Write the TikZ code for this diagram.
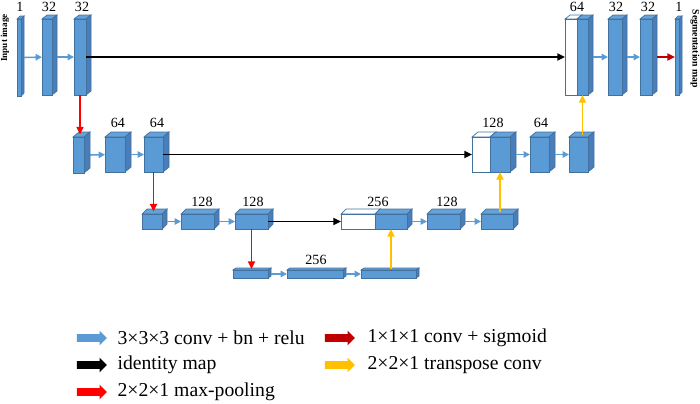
\documentclass[tikz,border=0pt]{standalone}
\usepackage{fontspec}
\setmainfont{Liberation Serif}
\usepackage{tikz}
\usetikzlibrary{arrows.meta,positioning,shapes.arrows}
\definecolor{blkfront}{HTML}{5B9BD5}
\definecolor{blkside}{HTML}{4A7EBB}
\definecolor{blktop}{HTML}{65A2D9}
\definecolor{blkedge}{HTML}{41719C}
\definecolor{poolred}{HTML}{FF0000}
\definecolor{sigred}{HTML}{C00000}
\definecolor{upyel}{HTML}{FFC000}
\def\pu{0.025cm}
% cuboid: [style prefix](name)(x1,y1)(x2,y2)(depth x,depth y), in pixels
\def\cuboid[#1](#2)(#3,#4)(#5,#6)(#7,#8){
	\draw[#1top] (#3,#4) -- ++(#7,-#8) -- ++({#5-#3},0) -- (#5,#4) -- cycle;
	\draw[#1side] (#5,#4) -- ++(#7,-#8) -- ++(0,{#6-#4}) -- (#5,#6) -- cycle;
	\node[#1front, minimum width={(#5-#3)*\pu}, minimum height={(#6-#4)*\pu}] (#2) at ({(#3+#5)/2},{(#4+#6)/2}) {};
	\coordinate (#2-t) at ({(#3+#5)/2+#7/2},{#4-#8/2});
	\coordinate (#2-r) at ({#5+#7},{(#4+#6)/2});
}
\tikzset{
	btop/.style={fill=blktop, draw=blkedge, line width=0.5pt},
	bside/.style={fill=blkside, draw=blkedge, line width=0.5pt},
	bfront/.style={fill=blkfront, draw=blkedge, line width=0.5pt, inner sep=0pt, outer sep=0pt},
	wtop/.style={fill=white, draw=blkedge, line width=0.5pt},
	wside/.style={fill=white, draw=blkedge, line width=0.5pt},
	wfront/.style={fill=white, draw=blkedge, line width=0.5pt, inner sep=0pt, outer sep=0pt},
	lbl/.style={font=\fontsize{10}{11}\selectfont, inner sep=0pt},
	conv/.style={draw=blkfront, line width=1.1pt, -{Triangle[length=4.5pt,width=4.5pt]}},
	skip/.style={draw=black, line width=1.4pt, -{Triangle[length=5.5pt,width=5pt]}},
	pool/.style={draw=poolred, line width=1.4pt, -{Triangle[length=5.5pt,width=5pt]}},
	sig/.style={draw=sigred, line width=1.4pt, -{Triangle[length=5.5pt,width=5pt]}},
	up/.style={draw=upyel, line width=1.4pt, -{Triangle[length=5.5pt,width=5pt]}},
	legarr/.style={single arrow, single arrow head extend=3.5*\pu, inner sep=3.5*\pu, minimum height=30*\pu, draw=none},
	legtxt/.style={font=\fontsize{14}{16}\selectfont, inner sep=0pt, anchor=west}
}

\begin{document}
\begin{tikzpicture}[x=\pu, y=-\pu]
		%%%%% START %%%%%
		\useasboundingbox (0,0) rectangle (700,403);
		
		% level 1
		\cuboid[b](in1)(17,19)(21,96)(3,3)
		\cuboid[b](e1a)(42,19)(52,95)(5,4)
		\cuboid[b](e1b)(74,19)(86,95)(5,4)
		\cuboid[w](d1w)(565,19)(577,95)(5,4)
		\cuboid[b](d1u)(577,19)(588,95)(5,4)
		\cuboid[b](d1b)(608,19)(622,95)(5,4)
		\cuboid[b](d1c)(640,19)(652,95)(5,4)
		\cuboid[b](out)(675,19)(679,95)(3,3)
		
		% level 2
		\cuboid[b](e2a)(73,137)(84,173)(6,5)
		\cuboid[b](e2b)(105,137)(125,172)(6,5)
		\cuboid[b](e2c)(144,137)(163,172)(6,5)
		\cuboid[w](d2w)(472,137)(490,172)(6,5)
		\cuboid[b](d2u)(490,137)(510,172)(6,5)
		\cuboid[b](d2b)(530,137)(549,172)(6,5)
		\cuboid[b](d2c)(569,137)(588,172)(6,5)
		
		% level 3
		\cuboid[b](e3a)(142,214)(162,229)(5,5)
		\cuboid[b](e3b)(181,214)(214,229)(5,5)
		\cuboid[b](e3c)(235,214)(268,229)(5,5)
		\cuboid[w](d3w)(341,214)(375,229)(5,5)
		\cuboid[b](d3u)(375,214)(407,229)(5,5)
		\cuboid[b](d3b)(427,214)(460,229)(5,5)
		\cuboid[b](d3c)(481,214)(513,229)(5,5)
		
		% level 4
		\cuboid[b](b4a)(233,270)(268,278)(3,2)
		\cuboid[b](b4b)(287,270)(343,278)(3,2)
		\cuboid[b](b4c)(361,270)(416,278)(3,2)
		
		% channel counts
		\node[lbl] (n1) at (20,7) {1};
		\node[lbl] (n2) at (49,7) {32};
		\node[lbl] (n3) at (82,7) {32};
		\node[lbl] (n4) at (577,7) {64};
		\node[lbl] (n5) at (616,7) {32};
		\node[lbl] (n6) at (648,7) {32};
		\node[lbl] (n7) at (679,7) {1};
		\node[lbl] (n8) at (118,123) {64};
		\node[lbl] (n9) at (157,123) {64};
		\node[lbl] (n10) at (493,123) {128};
		\node[lbl] (n11) at (541,123) {64};
		\node[lbl] (n12) at (202,202) {128};
		\node[lbl] (n13) at (253,202) {128};
		\node[lbl] (n14) at (378,202) {256};
		\node[lbl] (n15) at (447,202) {128};
		\node[lbl] (n16) at (316,260) {256};
		
		\node[font=\bfseries\fontsize{6.5}{7}\selectfont, rotate=90, inner sep=0pt] (inp) at (5,38) {Input image};
		\node[font=\bfseries\fontsize{7}{8}\selectfont, rotate=-90, inner sep=0pt] (seg) at (695,49) {Segmentation map};
		
		% arrows
		\draw[conv] (in1-r) -- (e1a);
		\draw[conv] (e1a-r) -- (e1b);
		\draw[skip] (e1b) -- (d1w);
		\draw[conv] (d1u-r) -- (d1b);
		\draw[conv] (d1b-r) -- (d1c);
		\draw[sig] (d1c-r) -- (out);
		\draw[pool] (e1b) -- (e1b |- e2a-t);
		
		\draw[conv] (e2a-r) -- (e2b);
		\draw[conv] (e2b-r) -- (e2c);
		\draw[skip] (e2c) -- (d2w);
		\draw[conv] (d2u-r) -- (d2b);
		\draw[conv] (d2b-r) -- (d2c);
		\draw[up] (d2c-t -| d1u) -- (d1u);
		\draw[pool] (e2c) -- (e2c |- e3a-t);
		
		\draw[conv] (e3a-r) -- (e3b);
		\draw[conv] (e3b-r) -- (e3c);
		\draw[skip] (e3c) -- (d3w);
		\draw[conv] (d3u-r) -- (d3b);
		\draw[conv] (d3b-r) -- (d3c);
		\draw[up] (d3c-t -| d2u) -- (d2u);
		\draw[pool] (e3c) -- (e3c |- b4a-t);
		
		\draw[conv] (b4a-r) -- (b4b);
		\draw[conv] (b4b-r) -- (b4c);
		\draw[up] (b4c-t -| d3u) -- (d3u);
		
		% legend
		\node[legarr, fill=blkfront] (k1) at (90,338) {};
		\node[legtxt, right=10*\pu of k1] (t1) {3×3×3 conv + bn + relu};
		\node[legarr, fill=black] (k2) at (90,365) {};
		\node[legtxt, right=10*\pu of k2] (t2) {identity map};
		\node[legarr, fill=poolred] (k3) at (90,392) {};
		\node[legtxt, right=10*\pu of k3] (t3) {2×2×1 max-pooling};
		\node[legarr, fill=sigred] (k4) at (338,338) {};
		\node[legtxt, right=12*\pu of k4] (t4) {1×1×1 conv + sigmoid};
		\node[legarr, fill=upyel] (k5) at (338,365) {};
		\node[legtxt, right=12*\pu of k5] (t5) {2×2×1 transpose conv};
		%%%%% END %%%%%
	\end{tikzpicture}
\end{document}
